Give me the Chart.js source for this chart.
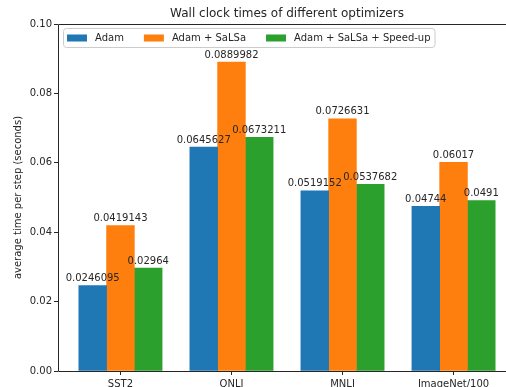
<!DOCTYPE html>
<html>
<head>
<meta charset="utf-8">
<script src="https://cdn.jsdelivr.net/npm/chart.js@4/dist/chart.umd.min.js"></script>
<style>
  html, body { margin: 0; padding: 0; background: #fff; }
  #wrap { width: 506px; height: 387px; overflow: hidden; position: relative; }
  canvas { display: block; }
</style>
</head>
<body>
<div id="wrap"><canvas id="c" width="530" height="400"></canvas></div>
<script>
// Benchmarks and measured wall clock time per step (seconds)
const categories = ['SST2', 'QNLI', 'MNLI', 'ImageNet/100'];
const seriesNames = ['Adam', 'Adam + SaLSa', 'Adam + SaLSa + Speed-up'];
const adam = [0.0246095, 0.0645627, 0.0519152, 0.04744];
const adamSalsa = [0.0419143, 0.0889982, 0.0726631, 0.06017];
const adamSalsaSpeedup = [0.02964, 0.0673211, 0.0537682, 0.0491];
const yTicks = [0, 0.02, 0.04, 0.06, 0.08, 0.10];

const colors = ['#1f77b4', '#ff7f0e', '#2ca02c'];
const series = [adam, adamSalsa, adamSalsaSpeedup];
const barWidth = 0.25;           // in category units
const FONT = '"DejaVu Sans", sans-serif';
const INK = '#262626';

// Bars sit at category index + offset, three per group
const datasets = series.map((vals, d) => ({
  label: seriesNames[d],
  data: vals.map((v, i) => ({ x: i + (d - 1) * barWidth, y: v })),
  backgroundColor: colors[d],
  borderWidth: 0,
  grouped: false,
  categoryPercentage: 1.0,
  barPercentage: 1.0
}));

const CHART_RIGHT = 516, CHART_TOP = 24, CHART_BOTTOM = 371, CHART_LEFT = 58;

const decorations = {
  id: 'decorations',
  afterDatasetsDraw(chart) {
    const ctx = chart.ctx;
    ctx.save();
    // value labels above each bar
    ctx.font = '10px ' + FONT;
    ctx.fillStyle = INK;
    ctx.textAlign = 'center';
    ctx.textBaseline = 'bottom';
    chart.data.datasets.forEach((ds, d) => {
      const meta = chart.getDatasetMeta(d);
      meta.data.forEach((bar, i) => {
        ctx.fillText(String(series[d][i]), bar.x, bar.y - 2);
      });
    });
    ctx.restore();
  },
  afterDraw(chart) {
    const ctx = chart.ctx;
    const area = chart.chartArea;
    ctx.save();
    // axes frame
    ctx.strokeStyle = INK;
    ctx.lineWidth = 1;
    ctx.beginPath();
    ctx.rect(Math.round(area.left) + 0.5, Math.round(area.top) + 0.5,
             Math.round(area.right - area.left), Math.round(area.bottom - area.top));
    ctx.stroke();

    // title centred over the plot area
    ctx.font = '12px ' + FONT;
    ctx.fillStyle = INK;
    ctx.textAlign = 'center';
    ctx.textBaseline = 'middle';
    ctx.fillText('Wall clock times of different optimizers', (area.left + area.right) / 2, 14);

    // legend in the upper left of the plot area
    ctx.font = '10px ' + FONT;
    const pad = 4, handle = 20, handleGap = 8, colGap = 20;
    const widths = chart.data.datasets.map(ds => ctx.measureText(ds.label).width);
    const total = pad * 2 + widths.reduce((a, w) => a + handle + handleGap + w, 0) + colGap * (widths.length - 1);
    const bx = area.left + 5, by = area.top + 4, bh = 19;
    ctx.beginPath();
    ctx.roundRect(bx + 0.5, by + 0.5, total, bh, 3);
    ctx.fillStyle = 'rgba(255,255,255,0.8)';
    ctx.fill();
    ctx.strokeStyle = '#cccccc';
    ctx.lineWidth = 1;
    ctx.stroke();
    let x = bx + pad;
    const cy = by + bh / 2 + 0.5;
    ctx.textAlign = 'left';
    ctx.textBaseline = 'middle';
    chart.data.datasets.forEach((ds, d) => {
      ctx.fillStyle = ds.backgroundColor;
      ctx.fillRect(x, cy - 3.5, handle, 7);
      ctx.fillStyle = INK;
      ctx.fillText(ds.label, x + handle + handleGap, cy);
      x += handle + handleGap + widths[d] + colGap;
    });
    ctx.restore();
  }
};

new Chart(document.getElementById('c'), {
  type: 'bar',
  data: { datasets },
  options: {
    responsive: false,
    devicePixelRatio: 1,
    animation: false,
    layout: { padding: { top: CHART_TOP, right: 530 - CHART_RIGHT, left: 0, bottom: 0 } },
    plugins: {
      legend: { display: false },
      title: { display: false },
      tooltip: { enabled: false }
    },
    scales: {
      x: {
        type: 'linear',
        offset: false,
        min: -0.5625,
        max: 3.5625,
        afterBuildTicks: s => { s.ticks = categories.map((_, i) => ({ value: i })); },
        afterFit: s => { s.height = 400 - CHART_BOTTOM; },
        ticks: {
          autoSkip: false,
          maxRotation: 0,
          padding: 3,
          color: INK,
          font: { family: FONT, size: 10 },
          callback: v => categories[v]
        },
        grid: { offset: false, drawOnChartArea: false, drawTicks: true, tickLength: 4, color: INK },
        border: { display: false }
      },
      y: {
        min: 0,
        max: 0.1,
        afterBuildTicks: s => { s.ticks = yTicks.map(v => ({ value: v })); },
        afterFit: s => { s.width = CHART_LEFT; },
        ticks: {
          padding: 2,
          color: INK,
          font: { family: FONT, size: 10 },
          callback: v => Number(v).toFixed(2)
        },
        grid: { drawOnChartArea: false, drawTicks: true, tickLength: 4, color: INK },
        border: { display: false },
        title: {
          display: true,
          text: 'average time per step (seconds)',
          color: INK,
          font: { family: FONT, size: 10 },
          padding: { top: 12, bottom: 0 }
        }
      }
    }
  },
  plugins: [decorations]
});
</script>
</body>
</html>
